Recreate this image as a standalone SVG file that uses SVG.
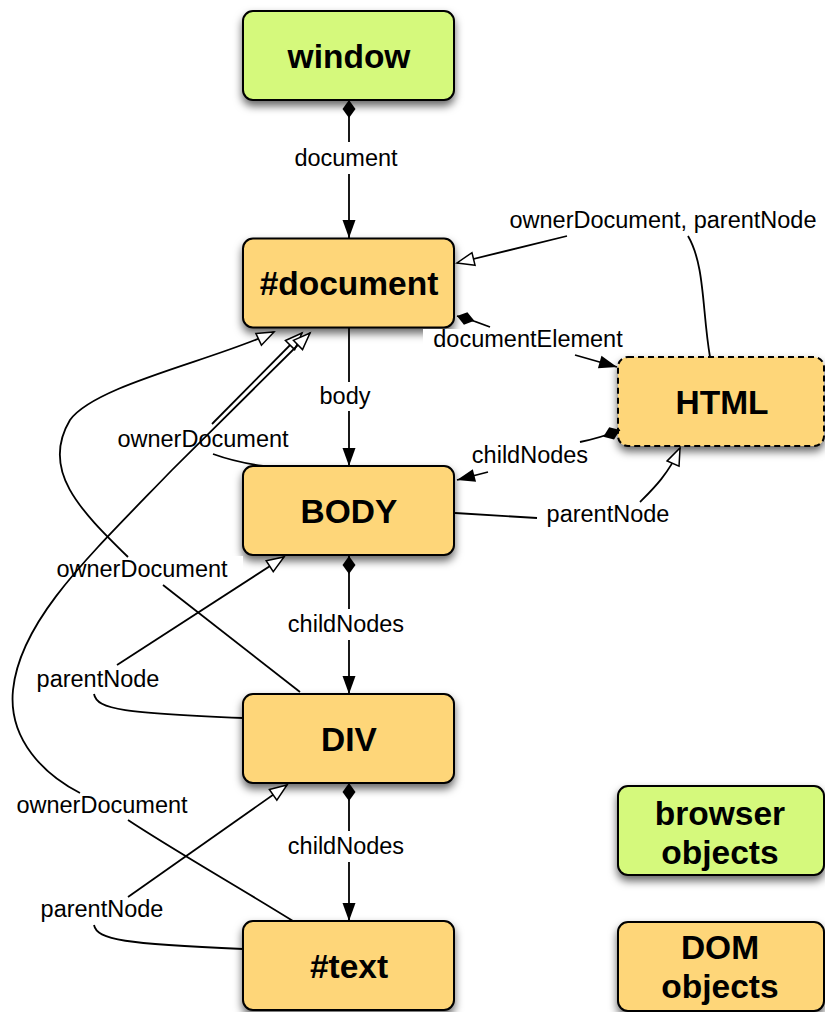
<svg xmlns="http://www.w3.org/2000/svg" width="825" height="1012" viewBox="0 0 825 1012">
<style>
.node{stroke:#000;stroke-width:2}
.browser{fill:#d5f97b}
.dom{fill:#fed679}
.dash{stroke-dasharray:6 4}
.nl{font-family:"Liberation Sans",Arial,sans-serif;font-weight:bold;font-size:33.5px;text-anchor:middle;fill:#000}
.el{font-family:"Liberation Sans",Arial,sans-serif;font-size:23.5px;text-anchor:middle;fill:#000}
.ln{fill:none;stroke:#000;stroke-width:1.8}
.bg{fill:#fff}
</style>
<defs>
<filter id="sh" x="-20%" y="-20%" width="140%" height="150%">
<feDropShadow dx="0" dy="5" stdDeviation="4.5" flood-color="#000" flood-opacity="0.6"/>
</filter>
<marker id="af" markerUnits="userSpaceOnUse" markerWidth="20" markerHeight="14" refX="18" refY="6.5" orient="auto" overflow="visible">
<path d="M0,0 L18,6.5 L0,13 z" fill="#000"/>
</marker>
<marker id="ao" markerUnits="userSpaceOnUse" markerWidth="20" markerHeight="14" refX="17" refY="6.5" orient="auto" overflow="visible">
<path d="M0,0 L17,6.5 L0,13 z" fill="#fff" stroke="#000" stroke-width="1.5"/>
</marker>
<marker id="dm" markerUnits="userSpaceOnUse" markerWidth="20" markerHeight="14" refX="0" refY="6.5" orient="auto" overflow="visible">
<path d="M0,6.5 L9,0 L18,6.5 L9,13 z" fill="#000"/>
</marker>
</defs>
<g id="window"><rect class="node browser" filter="url(#sh)" x="243" y="11" width="211" height="89" rx="10"/><text class="nl" x="349" y="68">window</text></g>
<g id="document"><rect class="node dom" filter="url(#sh)" x="243" y="238.5" width="211" height="89" rx="10"/><text class="nl" x="349" y="295">#document</text></g>
<g id="html"><rect class="node dom dash" filter="url(#sh)" x="618" y="357" width="206" height="89" rx="10"/><text class="nl" x="722" y="414">HTML</text></g>
<g id="body"><rect class="node dom" filter="url(#sh)" x="243" y="466" width="211" height="89" rx="10"/><text class="nl" x="349" y="523">BODY</text></g>
<g id="div"><rect class="node dom" filter="url(#sh)" x="243" y="694" width="211" height="89" rx="10"/><text class="nl" x="349" y="751">DIV</text></g>
<g id="text"><rect class="node dom" filter="url(#sh)" x="243" y="921" width="211" height="89" rx="10"/><text class="nl" x="349" y="978">#text</text></g>
<g id="legend-browser"><rect class="node browser" filter="url(#sh)" x="618" y="786" width="206" height="89" rx="10"/><text class="nl" x="720" y="825">browser</text><text class="nl" x="720" y="864">objects</text></g>
<g id="legend-dom"><rect class="node dom" filter="url(#sh)" x="618" y="922" width="206" height="89" rx="10"/><text class="nl" x="720" y="959">DOM</text><text class="nl" x="720" y="998">objects</text></g>
<g id="connectors">
<rect class="bg" x="423" y="329" width="215" height="24"/>
<rect class="bg" x="52" y="556" width="191" height="27"/>
<path class="ln" d="M349,100 L349,142" marker-start="url(#dm)"/>
<path class="ln" d="M349,174 L349,238" marker-end="url(#af)"/>
<text class="el" x="346" y="166">document</text>
<path class="ln" d="M349,328 L349,382"/>
<path class="ln" d="M349,411 L349,466" marker-end="url(#af)"/>
<text class="el" x="345" y="404">body</text>
<path class="ln" d="M349,556 L349,609" marker-start="url(#dm)"/>
<path class="ln" d="M349,640 L349,694" marker-end="url(#af)"/>
<text class="el" x="346" y="632">childNodes</text>
<path class="ln" d="M349,783 L349,831" marker-start="url(#dm)"/>
<path class="ln" d="M349,862 L349,921" marker-end="url(#af)"/>
<text class="el" x="346" y="854">childNodes</text>
<path class="ln" d="M457,316 Q475,321 490,327" marker-start="url(#dm)"/>
<path class="ln" d="M575,355 L617,367" marker-end="url(#af)"/>
<text class="el" x="528" y="347">documentElement</text>
<path class="ln" d="M710,357 C702,310 705,265 688,236"/>
<path class="ln" d="M567,236 L457,263" marker-end="url(#ao)"/>
<text class="el" x="663" y="228">ownerDocument, parentNode</text>
<path class="ln" d="M620,430 Q600,438 580,442" marker-start="url(#dm)"/>
<path class="ln" d="M488,472 L457,480" marker-end="url(#af)"/>
<text class="el" x="530" y="463">childNodes</text>
<path class="ln" d="M455,513 L537,518"/>
<path class="ln" d="M640,502 C652,490 668,475 680,448" marker-end="url(#ao)"/>
<text class="el" x="608" y="522">parentNode</text>
<path class="ln" d="M263,466 Q235,462 213,454"/>
<path class="ln" d="M212,424 L302,333" marker-end="url(#ao)"/>
<text class="el" x="203" y="447">ownerDocument</text>
<path class="ln" d="M300,692 L163,585"/>
<path class="ln" d="M128,557 C80,510 40,470 70,420 C95,385 215,360 274,332" marker-end="url(#ao)"/>
<text class="el" x="142" y="577">ownerDocument</text>
<path class="ln" d="M243,718 C125,713 97,710 94,694"/>
<path class="ln" d="M117,665 L284,557" marker-end="url(#ao)"/>
<text class="el" x="98" y="687">parentNode</text>
<path class="ln" d="M293,921 C240,888 170,848 128,820"/>
<path class="ln" d="M80,793 C45,775 8,740 13,690 C20,620 90,555 172,470 L310,333" marker-end="url(#ao)"/>
<text class="el" x="102" y="813">ownerDocument</text>
<path class="ln" d="M243,949 C125,944 97,940 94,925"/>
<path class="ln" d="M128,897 L287,785" marker-end="url(#ao)"/>
<text class="el" x="102" y="917">parentNode</text>
</g>
</svg>
